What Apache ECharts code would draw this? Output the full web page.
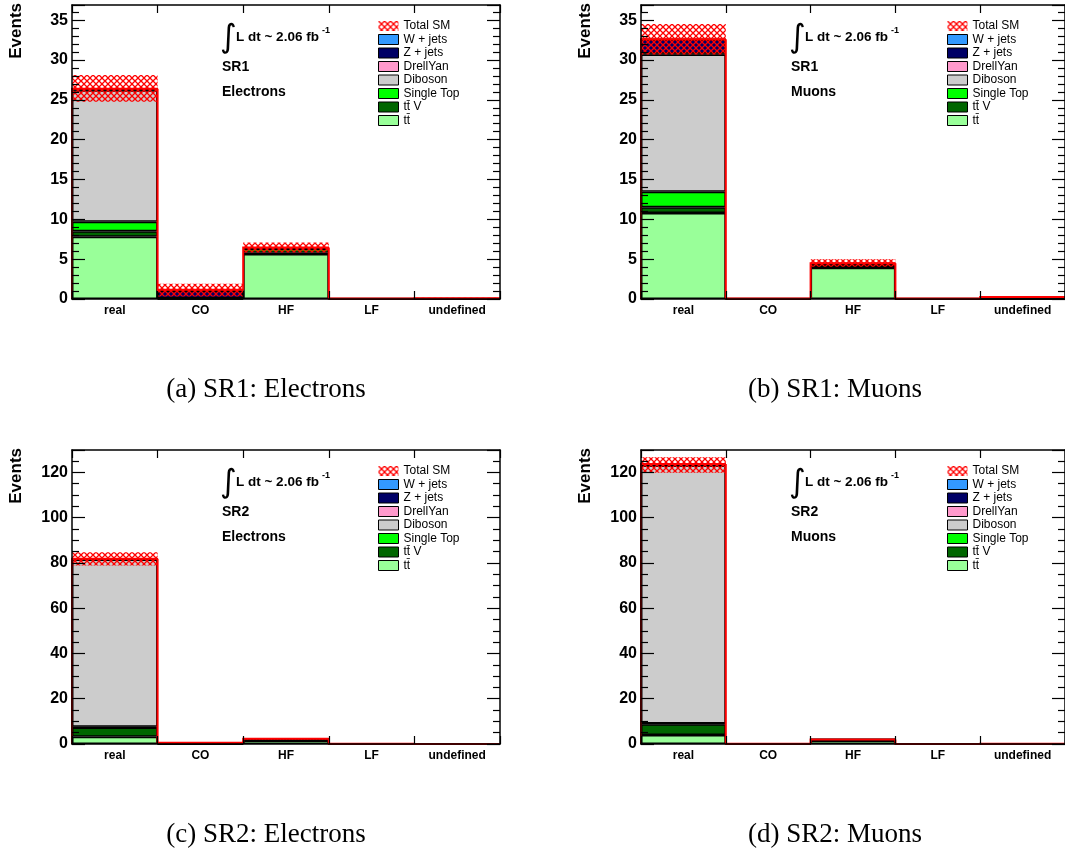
<!DOCTYPE html>
<html>
<head>
<meta charset="utf-8">
<script src="https://cdn.jsdelivr.net/npm/echarts@6/dist/echarts.min.js"></script>
<style>
  html, body { margin: 0; padding: 0; background: #fff; }
  #chart { width: 1065px; height: 853px; }
</style>
</head>
<body>
<div id="chart"></div>
<script>
// Truth-origin categories on the x axis
const categories = ['real', 'CO', 'HF', 'LF', 'undefined'];

// Stacked background samples, bottom to top
const sampleNames = ['tt\u0304', 'tt\u0304 V', 'Single Top', 'Diboson', 'DrellYan', 'Z + jets', 'W + jets'];
const sampleColors = ['#99ff99', '#006600', '#00ff00', '#cccccc', '#ff99cc', '#000066', '#3399ff'];
const legendOrder = ['Total SM', 'W + jets', 'Z + jets', 'DrellYan', 'Diboson', 'Single Top', 'tt\u0304 V', 'tt\u0304'];

// SR1, electrons
const ttbarSR1El   = [7.8, 0.0, 5.65, 0.0, 0.0];
const ttVSR1El     = [0.7, 0.05, 0.15, 0.0, 0.0];
const stopSR1El    = [1.2, 0.0, 0.5, 0.0, 0.0];
const dibosonSR1El = [16.5, 0.05, 0.05, 0.02, 0.0];
const dySR1El      = [0.05, 0.0, 0.0, 0.0, 0.0];
const zjetsSR1El   = [0.15, 0.95, 0.05, 0.03, 0.0];
const wjetsSR1El   = [0.0, 0.1, 0.05, 0.0, 0.1];
const uncLoSR1El   = [24.75, 0.3, 5.85, 0.0, 0.05];
const uncHiSR1El   = [28.1, 1.9, 7.1, 0.1, 0.15];

// SR1, muons
const ttbarSR1Mu   = [10.8, 0.0, 3.93, 0.0, 0.0];
const ttVSR1Mu     = [0.7, 0.0, 0.1, 0.0, 0.0];
const stopSR1Mu    = [1.95, 0.0, 0.3, 0.0, 0.0];
const dibosonSR1Mu = [17.25, 0.02, 0.05, 0.02, 0.0];
const dySR1Mu      = [0.1, 0.0, 0.0, 0.0, 0.0];
const zjetsSR1Mu   = [1.8, 0.03, 0.05, 0.03, 0.0];
const wjetsSR1Mu   = [0.0, 0.0, 0.05, 0.0, 0.25];
const uncLoSR1Mu   = [30.7, 0.0, 4.05, 0.0, 0.2];
const uncHiSR1Mu   = [34.5, 0.1, 5.0, 0.1, 0.3];

// SR2, electrons
const ttbarSR2El   = [3.2, 0.0, 1.5, 0.0, 0.0];
const ttVSR2El     = [4.1, 0.0, 0.3, 0.0, 0.0];
const stopSR2El    = [0.3, 0.0, 0.3, 0.0, 0.0];
const dibosonSR2El = [73.9, 0.3, 0.1, 0.1, 0.05];
const dySR2El      = [0.0, 0.0, 0.0, 0.0, 0.0];
const zjetsSR2El   = [0.3, 0.2, 0.0, 0.0, 0.0];
const wjetsSR2El   = [0.0, 0.0, 0.1, 0.0, 0.0];
const uncLoSR2El   = [78.9, 0.3, 2.0, 0.0, 0.0];
const uncHiSR2El   = [84.7, 0.7, 2.7, 0.2, 0.1];

// SR2, muons
const ttbarSR2Mu   = [4.0, 0.0, 1.6, 0.0, 0.0];
const ttVSR2Mu     = [4.7, 0.0, 0.1, 0.0, 0.0];
const stopSR2Mu    = [0.4, 0.0, 0.2, 0.0, 0.0];
const dibosonSR2Mu = [114.0, 0.05, 0.05, 0.05, 0.05];
const dySR2Mu      = [0.1, 0.0, 0.0, 0.0, 0.0];
const zjetsSR2Mu   = [0.5, 0.05, 0.0, 0.0, 0.0];
const wjetsSR2Mu   = [0.0, 0.0, 0.0, 0.0, 0.1];
const uncLoSR2Mu   = [119.8, 0.0, 1.8, 0.0, 0.0];
const uncHiSR2Mu   = [126.7, 0.2, 2.1, 0.1, 0.2];

// Y axis ranges and tick spacing per region
const yMaxSR1 = 36.9, yStepSR1 = 5, yMinorSR1 = 5;
const yMaxSR2 = 129.9, yStepSR2 = 20, yMinorSR2 = 4;

const lumiText = 'L dt ~ 2.06 fb';
const lumiExp = '-1';

const panels = [
  { grid: { left: 72, top: 5 }, region: 'SR1', channel: 'Electrons', caption: '(a) SR1: Electrons',
    stack: [ttbarSR1El, ttVSR1El, stopSR1El, dibosonSR1El, dySR1El, zjetsSR1El, wjetsSR1El],
    lo: uncLoSR1El, hi: uncHiSR1El, yMax: yMaxSR1, yStep: yStepSR1, yMinor: yMinorSR1 },
  { grid: { left: 641, top: 5 }, region: 'SR1', channel: 'Muons', caption: '(b) SR1: Muons',
    stack: [ttbarSR1Mu, ttVSR1Mu, stopSR1Mu, dibosonSR1Mu, dySR1Mu, zjetsSR1Mu, wjetsSR1Mu],
    lo: uncLoSR1Mu, hi: uncHiSR1Mu, yMax: yMaxSR1, yStep: yStepSR1, yMinor: yMinorSR1 },
  { grid: { left: 72, top: 450 }, region: 'SR2', channel: 'Electrons', caption: '(c) SR2: Electrons',
    stack: [ttbarSR2El, ttVSR2El, stopSR2El, dibosonSR2El, dySR2El, zjetsSR2El, wjetsSR2El],
    lo: uncLoSR2El, hi: uncHiSR2El, yMax: yMaxSR2, yStep: yStepSR2, yMinor: yMinorSR2 },
  { grid: { left: 641, top: 450 }, region: 'SR2', channel: 'Muons', caption: '(d) SR2: Muons',
    stack: [ttbarSR2Mu, ttVSR2Mu, stopSR2Mu, dibosonSR2Mu, dySR2Mu, zjetsSR2Mu, wjetsSR2Mu],
    lo: uncLoSR2Mu, hi: uncHiSR2Mu, yMax: yMaxSR2, yStep: yStepSR2, yMinor: yMinorSR2 }
];

const GRID_W = 428, GRID_H = 294;
const SANS = '"Liberation Sans", Arial, Helvetica, sans-serif';

// Red cross-hatch used for the total uncertainty band
function makeHatch() {
  const s = 6;
  const c = document.createElement('canvas');
  c.width = s; c.height = s;
  const g = c.getContext('2d');
  g.strokeStyle = '#ff0000';
  g.lineWidth = 1.3;
  g.beginPath();
  g.moveTo(-1, -1); g.lineTo(s + 1, s + 1);
  g.moveTo(s + 1, -1); g.lineTo(-1, s + 1);
  g.stroke();
  return c;
}
const hatch = { image: makeHatch(), repeat: 'repeat' };

const grid = [], xAxis = [], yAxis = [], series = [], legend = [], graphic = [];

panels.forEach((p, i) => {
  grid.push({ left: p.grid.left, top: p.grid.top, width: GRID_W, height: GRID_H, containLabel: false });

  const axisLine = { show: true, onZero: false, lineStyle: { color: '#000', width: 1.5 } };
  const xTick = { show: true, inside: true, length: 8, lineStyle: { color: '#000', width: 1.2 } };
  xAxis.push({
    type: 'category', gridIndex: i, data: categories, position: 'bottom', z: 10,
    axisLine, axisTick: xTick,
    axisLabel: { margin: 6, fontFamily: SANS, fontWeight: 'bold', fontSize: 12, color: '#000' },
    splitLine: { show: false }
  });
  xAxis.push({
    type: 'category', gridIndex: i, data: categories, position: 'top', z: 10,
    axisLine, axisTick: xTick,
    axisLabel: { show: false }, splitLine: { show: false }
  });
  const yCommon = {
    type: 'value', gridIndex: i, min: 0, max: p.yMax, interval: p.yStep, z: 10,
    axisLine,
    axisTick: { show: true, inside: true, length: 13, lineStyle: { color: '#000', width: 1.2 } },
    minorTick: { show: true, splitNumber: p.yMinor, length: 7, lineStyle: { color: '#000', width: 1.2 } },
    splitLine: { show: false }, minorSplitLine: { show: false }
  };
  yAxis.push(Object.assign({}, yCommon, {
    position: 'left',
    axisLabel: { margin: 4, fontFamily: SANS, fontWeight: 'bold', fontSize: 16, color: '#000', showMaxLabel: false }
  }));
  yAxis.push(Object.assign({}, yCommon, { position: 'right', axisLabel: { show: false } }));

  const xi = 2 * i, yi = 2 * i;

  // Stacked sample histograms
  p.stack.forEach((vals, k) => {
    series.push({
      type: 'bar', name: sampleNames[k], xAxisIndex: xi, yAxisIndex: yi,
      stack: 'bkg' + i, barCategoryGap: '0%', data: vals, z: 2,
      itemStyle: { color: sampleColors[k], borderColor: '#000', borderWidth: 1.5 },
      emphasis: { disabled: true }
    });
  });

  const totals = categories.map((_, j) => p.stack.reduce((s, arr) => s + arr[j], 0));

  // Uncertainty band on the total
  series.push({
    type: 'custom', name: 'Total SM', xAxisIndex: xi, yAxisIndex: yi, z: 3,
    itemStyle: { color: hatch, borderWidth: 0 },
    data: categories.map((_, j) => [j, p.lo[j], p.hi[j]]),
    renderItem: (params, api) => {
      const top = api.coord([api.value(0), api.value(2)]);
      const bot = api.coord([api.value(0), api.value(1)]);
      const w = api.size([1, 0])[0];
      return { type: 'rect', shape: { x: top[0] - w / 2, y: top[1], width: w, height: bot[1] - top[1] },
               style: { fill: hatch } };
    }
  });

  // Total SM outline as a step histogram
  series.push({
    type: 'custom', name: 'Total SM line', xAxisIndex: xi, yAxisIndex: yi, z: 4,
    data: categories.map((_, j) => [j, totals[j], j === 0 ? 0 : totals[j - 1], j === categories.length - 1 ? 1 : 0]),
    renderItem: (params, api) => {
      const c = api.coord([api.value(0), api.value(1)]);
      const prev = api.coord([api.value(0), api.value(2)]);
      const base = api.coord([api.value(0), 0]);
      const w = api.size([1, 0])[0];
      const x0 = c[0] - w / 2, x1 = c[0] + w / 2;
      const pts = [[x0, prev[1]], [x0, c[1]], [x1, c[1]]];
      if (api.value(3) === 1) pts.push([x1, base[1]]);
      return { type: 'polyline', shape: { points: pts },
               style: { stroke: '#ff0000', lineWidth: 2, fill: null } };
    }
  });

  // Legend box in the upper right of each panel
  legend.push({
    left: p.grid.left + 306, top: p.grid.top + 15, orient: 'vertical',
    itemWidth: 20, itemHeight: 10, itemGap: 1.5, padding: 0, selectedMode: false,
    icon: 'rect',
    itemStyle: { borderColor: '#000', borderWidth: 1 },
    textStyle: { fontFamily: SANS, fontSize: 12, color: '#000', lineHeight: 10 },
    data: legendOrder.map(n => n === 'Total SM'
      ? { name: n, itemStyle: { color: hatch, borderWidth: 0 } }
      : { name: n })
  });

  // Luminosity, region and channel labels
  const gx = p.grid.left, gy = p.grid.top;
  graphic.push({ type: 'text', x: gx + 148, y: gy + 34, silent: true,
    style: { text: '\u222B', font: '32px "DejaVu Sans", sans-serif', fill: '#000', align: 'left', verticalAlign: 'middle', textAlign: 'left', textVerticalAlign: 'middle' } });
  graphic.push({ type: 'text', x: gx + 164, y: gy + 32, silent: true,
    style: { text: lumiText, font: 'bold 13.5px ' + SANS, fill: '#000', align: 'left', verticalAlign: 'middle', textAlign: 'left', textVerticalAlign: 'middle' } });
  graphic.push({ type: 'text', x: gx + 250, y: gy + 26, silent: true,
    style: { text: lumiExp, font: 'bold 9px ' + SANS, fill: '#000', align: 'left', verticalAlign: 'middle', textAlign: 'left', textVerticalAlign: 'middle' } });
  graphic.push({ type: 'text', x: gx + 150, y: gy + 62, silent: true,
    style: { text: p.region, font: 'bold 14px ' + SANS, fill: '#000', align: 'left', verticalAlign: 'middle', textAlign: 'left', textVerticalAlign: 'middle' } });
  graphic.push({ type: 'text', x: gx + 150, y: gy + 87, silent: true,
    style: { text: p.channel, font: 'bold 14px ' + SANS, fill: '#000', align: 'left', verticalAlign: 'middle', textAlign: 'left', textVerticalAlign: 'middle' } });

  // Y axis title
  graphic.push({ type: 'text', x: gx - 56, y: gy - 2, rotation: Math.PI / 2, silent: true,
    style: { text: 'Events', font: 'bold 17px ' + SANS, fill: '#000', align: 'right', verticalAlign: 'middle', textAlign: 'right', textVerticalAlign: 'middle' } });

  // Sub-figure caption
  graphic.push({ type: 'text', x: gx + 194, y: gy + 385, silent: true,
    style: { text: p.caption, font: '27px "Liberation Serif", "Times New Roman", serif', fill: '#000', align: 'center', verticalAlign: 'middle', textAlign: 'center', textVerticalAlign: 'middle' } });
});

const chart = echarts.init(document.getElementById('chart'), null, { renderer: 'canvas' });
chart.setOption({
  animation: false,
  backgroundColor: '#ffffff',
  grid, xAxis, yAxis, series, legend, graphic,
  tooltip: { show: false }
});
</script>
</body>
</html>
